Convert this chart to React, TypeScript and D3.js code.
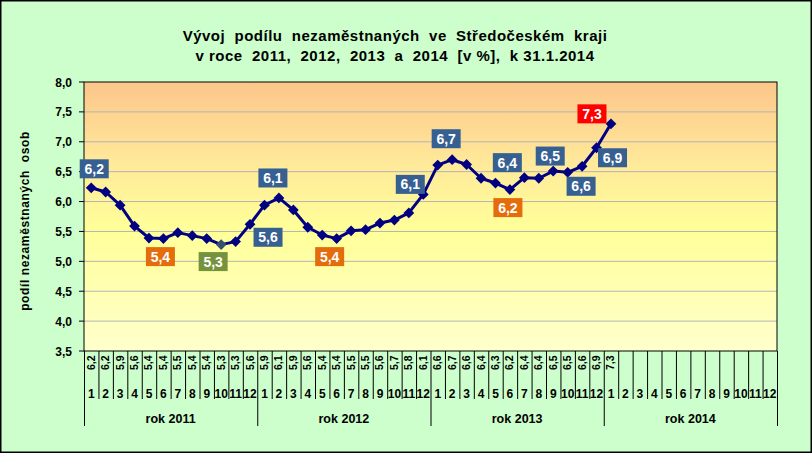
import * as d3 from 'd3';

// ── Data ─────────────────────────────────────────────────
const MONTHS = ['1', '2', '3', '4', '5', '6', '7', '8', '9', '10', '11', '12'];
const YEARS = ['rok 2011', 'rok 2012', 'rok 2013', 'rok 2014'];
const V2011 = [6.23, 6.16, 5.94, 5.59, 5.39, 5.38, 5.48, 5.43, 5.38, 5.28, 5.33, 5.62];
const V2012 = [5.94, 6.06, 5.86, 5.57, 5.44, 5.38, 5.51, 5.53, 5.64, 5.69, 5.81, 6.12];
const V2013 = [6.61, 6.70, 6.62, 6.39, 6.31, 6.20, 6.40, 6.39, 6.51, 6.49, 6.59, 6.90];
const V2014 = [7.30];
const Y_TICKS = [3.5, 4.0, 4.5, 5.0, 5.5, 6.0, 6.5, 7.0, 7.5, 8.0];

// highlighted points: index into the monthly series + box colour
const CALLOUT_IDX = [0, 5, 9, 11, 13, 17, 23, 25, 29, 30, 32, 34, 35, 36];
const CALLOUT_KIND = ['blue', 'orange', 'green', 'blue', 'blue', 'orange', 'blue', 'blue', 'orange', 'blue', 'blue', 'blue', 'blue', 'red'];

const TITLE_1 = 'Vývoj  podílu  nezaměstnaných  ve  Středočeském  kraji';
const TITLE_2 = 'v roce  2011,  2012,  2013  a  2014  [v %],  k 31.1.2014';
const Y_TITLE = 'podíl nezaměstnaných  osob';

// ── Layout / style ───────────────────────────────────────
const W = 812, H = 453;
const plot = { left: 84, right: 777, top: 82, bottom: 351 };
const FONT = '"Liberation Sans", Arial, sans-serif';
const BOX_COLORS: Record<string, string> = { blue: '#376092', orange: '#E46C0A', green: '#76923C', red: '#FF0000' };
// label box offsets from their point (px)
const CALLOUT_OFFSET: [number, number][] = [
  [3, -19], [-3, 18], [-8, 17], [18, 13], [-6, -20], [-7, 18], [-13, -10],
  [-6, -21], [-2, 18], [-17, -15], [-3, -15], [-1, 20], [16, 10], [-19, -10],
];

const fmt = (v: number) => d3.format('.1f')(v).replace('.', ',');

export default function App() {
  const series = [V2011, V2012, V2013, V2014];
  const values: number[] = series.flat();
  const cats = d3.range(YEARS.length * MONTHS.length);

  const x = d3.scaleBand<number>().domain(cats).range([plot.left, plot.right]);
  const y = d3.scaleLinear().domain([3.5, 8]).range([plot.bottom, plot.top]);
  const cx = (i: number) => (x(i) ?? 0) + x.bandwidth() / 2;

  const line = d3.line<number>().x((_, i) => cx(i)).y(d => y(d));
  const diamond = d3.symbol().type(d3.symbolSquare).size(58)();

  const yearW = x.bandwidth() * MONTHS.length;

  return (
    <>
      <style>{'body{margin:0}'}</style>
      <svg width={W} height={H} style={{ display: 'block', fontFamily: FONT }}>
        <defs>
          <linearGradient id="plotBg" x1="0" y1="0" x2="0" y2="1">
            <stop offset="0%" stopColor="#FCC68A" />
            <stop offset="30%" stopColor="#FFE99A" />
            <stop offset="55%" stopColor="#FFFF99" />
            <stop offset="100%" stopColor="#FFFFCC" />
          </linearGradient>
        </defs>
        <rect x={0.75} y={0.75} width={W - 1.5} height={H - 1.5} fill="#CCFFCC" stroke="#000" strokeWidth={1.5} />

        {/* title */}
        <text x={395} y={41} textAnchor="middle" fontSize={15} fontWeight="bold" letterSpacing={0.5} style={{ whiteSpace: 'pre' }}>{TITLE_1}</text>
        <text x={395} y={61} textAnchor="middle" fontSize={15} fontWeight="bold" letterSpacing={0.5} style={{ whiteSpace: 'pre' }}>{TITLE_2}</text>

        {/* plot area */}
        <rect x={plot.left} y={plot.top} width={plot.right - plot.left} height={plot.bottom - plot.top} fill="url(#plotBg)" />
        {Y_TICKS.filter(t => t > 3.5 && t < 8).map(t => (
          <line key={t} x1={plot.left} x2={plot.right} y1={y(t)} y2={y(t)} stroke="#B4B4B4" strokeWidth={1} />
        ))}
        <rect x={plot.left} y={plot.top} width={plot.right - plot.left} height={plot.bottom - plot.top} fill="none" stroke="#000" strokeWidth={1} />

        {/* y axis */}
        {Y_TICKS.map(t => (
          <g key={t}>
            <line x1={plot.left - 5} x2={plot.left} y1={y(t)} y2={y(t)} stroke="#000" />
            <text x={72} y={y(t) + 4.5} textAnchor="end" fontSize={12} fontWeight="bold">{fmt(t)}</text>
          </g>
        ))}
        <text transform={`translate(29,221) rotate(-90)`} textAnchor="middle" fontSize={12} fontWeight="bold" letterSpacing={0.6} style={{ whiteSpace: 'pre' }}>{Y_TITLE}</text>

        {/* category table */}
        {cats.map(i => (
          <line key={'m' + i} x1={(x(i) ?? 0) + 0.5} x2={(x(i) ?? 0) + 0.5} y1={plot.bottom} y2={i % 12 === 0 ? 426 : 399} stroke="#000" />
        ))}
        <line x1={plot.right + 0.5} x2={plot.right + 0.5} y1={plot.bottom} y2={426} stroke="#000" />
        {cats.map(i => (
          <text key={'n' + i} x={cx(i)} y={398} textAnchor="middle" fontSize={12} fontWeight="bold">{MONTHS[i % 12]}</text>
        ))}
        {values.map((v, i) => (
          <text key={'v' + i} transform={`translate(${cx(i) + 3.5},370) rotate(-90)`} fontSize={10.5} fontWeight="bold">{fmt(v)}</text>
        ))}
        {YEARS.map((yr, k) => (
          <text key={yr} x={plot.left + yearW * (k + 0.5)} y={423} textAnchor="middle" fontSize={12.5} fontWeight="bold">{yr}</text>
        ))}

        {/* series */}
        <path d={line(values) ?? ''} fill="none" stroke="#000080" strokeWidth={3} strokeLinejoin="round" />
        {values.map((v, i) => (
          <path key={'p' + i} d={diamond} transform={`translate(${cx(i)},${y(v)}) rotate(45)`} fill={i === 9 ? '#34506E' : '#000080'} />
        ))}

        {/* callouts */}
        {CALLOUT_IDX.map((idx, k) => {
          const [dx, dy] = CALLOUT_OFFSET[k];
          const px = cx(idx) + dx, py = y(values[idx]) + dy;
          return (
            <g key={'c' + idx}>
              <rect x={px - 14.5} y={py - 9.5} width={29} height={19} fill={BOX_COLORS[CALLOUT_KIND[k]]} />
              <text x={px} y={py + 5} textAnchor="middle" fontSize={14} fontWeight="bold" fill="#fff">{fmt(values[idx])}</text>
            </g>
          );
        })}
      </svg>
    </>
  );
}
